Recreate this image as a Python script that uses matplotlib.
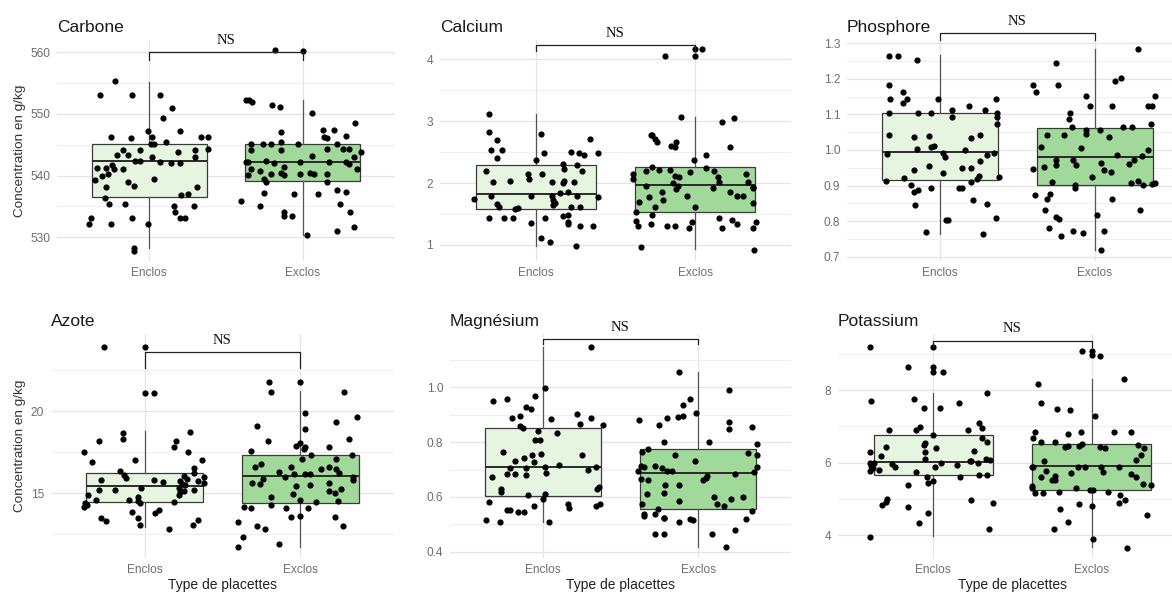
import matplotlib
matplotlib.use("Agg")
import matplotlib.pyplot as plt
from matplotlib.ticker import MultipleLocator, FormatStrFormatter

plt.rcParams['font.family'] = ['Liberation Sans', 'DejaVu Sans']

groups = ["Enclos", "Exclos"]

# --- Carbone (g/kg) ---
carbone_enclos = [555.4, 553.1, 553.1, 553.1, 551.0, 549.3, 547.2, 547.2, 546.2, 546.1,
                  546.3, 546.2, 546.3, 545.5, 545.1, 545.1, 544.2, 544.3, 544.1, 544.1,
                  543.9, 543.4, 543.4, 543.1, 543.1, 541.8, 542.4, 542.4, 542.2, 542.0,
                  542.0, 541.2, 541.2, 541.1, 541.1, 540.0, 540.3, 539.3, 539.0, 539.5,
                  538.2, 538.4, 538.1, 536.8, 537.0, 536.3, 535.4, 535.4, 535.1, 535.1,
                  534.1, 533.2, 533.2, 533.2, 533.2, 532.1, 532.1, 532.1, 528.2, 527.8]
carbone_enclos_jit = [-0.22, -0.32, -0.11, 0.07, 0.15, 0.09, -0.01, 0.20, -0.25, -0.12,
                      0.02, 0.34, 0.38, 0.11, 0.01, 0.03, 0.30, 0.38, -0.17, -0.06,
                      0.19, -0.21, -0.14, 0.02, 0.30, -0.24, -0.09, -0.06, 0.07, 0.14,
                      0.20, -0.34, -0.28, -0.23, -0.17, -0.31, -0.27, -0.35, -0.14, 0.03,
                      -0.28, -0.10, 0.31, 0.21, 0.25, -0.29, -0.26, -0.16, 0.16, 0.29,
                      0.17, -0.38, -0.11, 0.20, 0.23, -0.39, -0.25, -0.01, -0.10, -0.10]
carbone_exclos = [560.4, 560.2, 552.3, 552.2, 551.9, 551.4, 551.2, 550.2, 548.5, 547.4,
                  547.4, 547.0, 546.3, 546.1, 546.4, 545.2, 545.2, 545.2, 545.4, 545.1,
                  545.1, 544.4, 544.3, 544.3, 544.2, 544.2, 543.9, 543.2, 543.1, 542.2,
                  542.2, 542.4, 542.1, 542.2, 542.2, 542.2, 541.9, 541.0, 541.0, 540.8,
                  541.4, 540.1, 540.2, 540.5, 540.1, 540.2, 540.5, 540.3, 540.3, 539.4,
                  539.0, 539.0, 537.2, 537.0, 537.1, 537.7, 537.4, 535.9, 535.1, 535.4,
                  534.1, 533.4, 533.4, 534.1, 531.7, 531.1, 530.3]
carbone_exclos_jit = [-0.18, 0.00, -0.37, -0.35, -0.33, -0.20, -0.15, 0.06, 0.34, 0.13,
                      0.20, -0.14, 0.14, 0.16, 0.28, -0.34, -0.26, -0.21, -0.14, -0.03,
                      0.22, 0.16, 0.26, 0.30, -0.34, -0.14, 0.38, 0.06, 0.33, -0.37,
                      -0.36, -0.24, -0.19, -0.02, 0.17, 0.28, 0.30, 0.35, -0.34, -0.28,
                      -0.12, -0.36, -0.21, -0.14, -0.12, -0.02, 0.05, 0.07, 0.16, -0.25,
                      -0.24, 0.16, -0.25, -0.06, 0.10, 0.22, 0.28, -0.40, -0.28, 0.24,
                      -0.12, -0.12, -0.07, 0.31, 0.33, 0.22, 0.03]
# whisker low, Q1, median, Q3, whisker high
carbone_box = [(528.2, 536.6, 542.3, 545.2, 555.2), (530.3, 539.2, 542.2, 545.2, 552.2)]

# --- Calcium ---
calcium_enclos = [3.12, 2.83, 2.70, 2.79, 2.72, 2.53, 2.54, 2.48, 2.51, 2.48,
                  2.46, 2.48, 2.41, 2.38, 2.31, 2.30, 2.23, 2.20, 2.19, 2.15,
                  2.14, 2.06, 2.01, 2.04, 2.01, 2.00, 2.03, 2.02, 1.75, 1.79,
                  1.79, 1.79, 1.84, 1.85, 1.79, 1.77, 1.73, 1.66, 1.61, 1.65,
                  1.67, 1.61, 1.62, 1.58, 1.60, 1.44, 1.44, 1.44, 1.44, 1.46,
                  1.48, 1.35, 1.37, 1.34, 1.30, 1.31, 1.11, 1.05, 0.98]
calcium_enclos_jit = [-0.29, -0.29, -0.24, 0.03, 0.34, -0.28, -0.21, 0.05, 0.22, 0.27,
                      0.30, 0.39, -0.24, 0.00, 0.17, 0.26, 0.18, 0.29, -0.31, -0.05,
                      0.04, -0.04, -0.27, -0.16, 0.10, 0.17, 0.18, 0.24, -0.39, -0.28,
                      -0.03, 0.10, 0.15, 0.20, 0.26, 0.39, 0.11, -0.24, -0.23, 0.11,
                      0.12, 0.22, 0.28, -0.13, -0.11, -0.29, -0.20, -0.14, 0.06, 0.17,
                      0.20, -0.03, 0.20, 0.20, 0.28, 0.36, 0.03, 0.09, 0.25]
calcium_exclos = [4.17, 4.16, 4.05, 4.05, 3.07, 3.06, 2.98, 2.77, 2.78, 2.72,
                  2.66, 2.66, 2.60, 2.58, 2.58, 2.45, 2.38, 2.26, 2.21, 2.21,
                  2.25, 2.19, 2.18, 2.19, 2.14, 2.11, 2.09, 2.09, 2.14, 2.06,
                  2.02, 2.02, 1.96, 2.00, 1.95, 1.90, 1.92, 1.94, 1.92, 1.85,
                  1.85, 1.79, 1.79, 1.77, 1.79, 1.73, 1.70, 1.67, 1.61, 1.61,
                  1.53, 1.48, 1.44, 1.40, 1.39, 1.31, 1.34, 1.34, 1.37, 1.37,
                  1.30, 1.30, 1.28, 1.28, 1.28, 0.96, 0.91]
calcium_exclos_jit = [0.00, 0.04, 0.00, -0.19, -0.09, 0.24, 0.17, -0.28, -0.27, -0.25,
                      -0.24, -0.12, -0.15, -0.13, 0.22, 0.07, -0.01, -0.27, -0.23, -0.16,
                      0.07, -0.31, -0.03, 0.12, 0.32, -0.13, -0.10, 0.14, -0.39, -0.39,
                      0.15, 0.33, -0.31, -0.14, -0.11, -0.12, 0.11, 0.36, 0.36, -0.21,
                      0.22, 0.26, 0.30, -0.29, -0.05, -0.20, -0.35, 0.36, -0.25, 0.00,
                      -0.37, -0.27, 0.15, 0.23, -0.37, -0.36, -0.28, 0.26, 0.38, -0.02,
                      -0.18, -0.13, -0.04, 0.17, 0.36, -0.34, 0.37]
calcium_box = [(0.98, 1.585, 1.83, 2.295, 3.12), (0.93, 1.537, 1.97, 2.257, 3.07)]

# --- Phosphore ---
phosphore_enclos = [1.263, 1.263, 1.253, 1.182, 1.164, 1.144, 1.144, 1.133, 1.144, 1.144,
                    1.104, 1.104, 1.104, 1.113, 1.094, 1.124, 1.113, 1.104, 1.094, 1.074,
                    1.043, 1.036, 1.038, 1.043, 1.035, 1.004, 1.008, 1.011, 1.001, 0.990,
                    0.992, 0.992, 0.979, 0.986, 0.968, 0.955, 0.934, 0.948, 0.948, 0.924,
                    0.927, 0.943, 0.921, 0.914, 0.911, 0.918, 0.901, 0.893, 0.893, 0.893,
                    0.887, 0.881, 0.859, 0.846, 0.848, 0.810, 0.802, 0.802, 0.769, 0.764]
phosphore_enclos_jit = [-0.33, -0.27, -0.15, -0.33, -0.24, -0.32, -0.21, -0.24, -0.01, 0.36,
                        -0.33, -0.14, -0.06, 0.08, 0.08, 0.19, 0.29, 0.37, 0.37, 0.37,
                        -0.33, -0.17, -0.07, 0.26, 0.20, -0.15, -0.06, -0.04, 0.16, -0.34,
                        0.02, 0.35, 0.03, 0.30, 0.26, -0.07, 0.02, 0.14, 0.20, 0.38,
                        0.25, -0.17, -0.23, -0.35, 0.20, 0.24, -0.19, -0.06, 0.12, 0.14,
                        -0.14, -0.17, 0.21, -0.16, 0.30, 0.36, 0.05, 0.04, -0.09, 0.28]
phosphore_exclos = [1.284, 1.244, 1.182, 1.164, 1.182, 1.195, 1.202, 1.152, 1.152, 1.124,
                    1.124, 1.124, 1.124, 1.105, 1.086, 1.064, 1.064, 1.064, 1.074, 1.055,
                    1.055, 1.044, 1.043, 1.043, 1.037, 1.007, 1.005, 0.999, 0.985, 0.983,
                    0.972, 0.972, 0.972, 0.960, 0.952, 0.959, 0.959, 0.964, 0.947, 0.943,
                    0.938, 0.923, 0.910, 0.901, 0.892, 0.908, 0.914, 0.901, 0.905, 0.907,
                    0.873, 0.875, 0.861, 0.861, 0.831, 0.831, 0.816, 0.811, 0.807, 0.780,
                    0.757, 0.773, 0.768, 0.773, 0.720]
phosphore_exclos_jit = [0.28, -0.25, -0.40, -0.38, -0.24, 0.13, 0.17, 0.39, -0.06, -0.03,
                        0.11, 0.34, 0.37, -0.16, -0.17, -0.15, 0.18, 0.24, 0.36, -0.06,
                        0.03, -0.06, -0.31, -0.20, 0.09, -0.35, -0.09, 0.34, 0.14, 0.30,
                        -0.25, -0.14, 0.25, 0.22, -0.33, -0.25, -0.12, 0.04, -0.40, 0.06,
                        0.10, -0.02, -0.28, -0.13, -0.13, 0.23, 0.28, 0.31, 0.37, 0.39,
                        -0.39, -0.29, -0.31, 0.11, -0.32, 0.29, 0.01, -0.25, -0.23, -0.30,
                        -0.22, -0.14, -0.08, 0.06, 0.04]
phosphore_box = [(0.764, 0.916, 0.994, 1.104, 1.267), (0.720, 0.901, 0.981, 1.063, 1.284)]

# --- Azote ---
azote_enclos = [23.87, 23.87, 21.11, 21.11, 18.64, 18.28, 18.20, 18.74, 18.20, 17.79,
                17.49, 17.49, 16.88, 17.00, 17.00, 16.36, 16.11, 15.95, 16.56, 16.26,
                16.05, 15.89, 15.99, 15.81, 15.81, 15.67, 15.73, 15.77, 15.57, 15.49,
                15.61, 15.34, 15.32, 15.20, 15.22, 15.20, 15.08, 15.12, 14.90, 14.62,
                14.78, 14.60, 14.39, 14.29, 14.19, 14.39, 14.55, 14.49, 14.88, 13.89,
                13.99, 13.79, 13.52, 13.32, 13.50, 13.08, 13.38, 13.08, 12.81]
azote_enclos_jit = [-0.26, 0.00, 0.00, 0.06, -0.14, -0.14, -0.29, 0.29, 0.20, 0.19,
                    -0.39, 0.28, -0.34, -0.06, 0.37, -0.16, -0.13, -0.12, 0.32, 0.32,
                    0.25, 0.27, 0.38, -0.28, 0.06, 0.12, 0.23, 0.34, 0.24, 0.26,
                    0.38, 0.22, -0.02, -0.29, -0.19, 0.32, 0.23, 0.25, -0.36, -0.10,
                    -0.04, -0.31, -0.38, -0.37, -0.39, -0.03, -0.04, 0.19, 0.22, -0.08,
                    0.09, 0.07, -0.28, -0.25, -0.04, -0.03, 0.34, 0.31, 0.16]
azote_exclos = [21.76, 21.76, 21.17, 21.17, 19.88, 19.62, 19.11, 19.31, 18.89, 18.20,
                18.30, 18.08, 17.89, 17.79, 17.67, 17.83, 17.57, 17.08, 17.31, 17.33,
                17.08, 16.62, 16.78, 16.58, 16.48, 16.62, 16.48, 16.32, 16.01, 16.19,
                16.17, 16.15, 16.26, 16.01, 15.81, 15.65, 15.57, 15.85, 15.45, 15.53,
                15.65, 15.12, 15.04, 15.28, 14.80, 14.94, 14.62, 14.47, 14.55, 14.31,
                14.17, 14.11, 14.11, 14.11, 13.58, 13.64, 13.58, 13.24, 13.04, 12.81,
                13.04, 12.35, 11.90, 11.72]
azote_exclos_jit = [-0.20, 0.00, -0.19, 0.28, 0.03, 0.36, -0.28, 0.23, 0.03, -0.21,
                    0.31, 0.00, -0.03, 0.03, 0.02, 0.18, -0.32, 0.01, 0.07, 0.33,
                    0.23, -0.29, -0.25, -0.06, 0.13, 0.18, 0.23, -0.14, -0.10, -0.04,
                    0.03, 0.06, 0.25, 0.34, 0.34, -0.31, -0.26, -0.24, -0.03, 0.06,
                    0.18, 0.18, 0.22, 0.26, -0.19, -0.05, 0.00, 0.10, 0.24, -0.19,
                    -0.36, -0.32, -0.09, 0.05, -0.06, 0.00, 0.22, -0.40, -0.28, -0.23,
                    0.27, -0.37, -0.14, -0.40]
azote_box = [(12.94, 14.49, 15.43, 16.23, 18.81), (11.74, 14.43, 16.03, 17.33, 21.21)]

# --- Magnésium ---
magnesium_enclos = [1.146, 0.999, 0.951, 0.959, 0.968, 0.929, 0.920, 0.887, 0.897, 0.883,
                    0.904, 0.887, 0.867, 0.861, 0.860, 0.852, 0.842, 0.835, 0.809, 0.807,
                    0.763, 0.755, 0.752, 0.741, 0.753, 0.731, 0.729, 0.706, 0.717, 0.709,
                    0.704, 0.684, 0.684, 0.679, 0.689, 0.698, 0.709, 0.672, 0.628, 0.619,
                    0.608, 0.611, 0.591, 0.636, 0.628, 0.583, 0.567, 0.573, 0.558, 0.567,
                    0.575, 0.553, 0.551, 0.544, 0.546, 0.516, 0.507, 0.507]
magnesium_enclos_jit = [0.31, 0.01, -0.32, -0.23, -0.05, -0.11, -0.08, -0.20, -0.15, 0.05,
                        0.22, 0.31, 0.24, 0.39, -0.15, -0.13, -0.03, 0.09, -0.05, -0.02,
                        -0.26, -0.01, -0.07, -0.12, 0.25, -0.18, -0.06, -0.21, 0.10, 0.01,
                        -0.11, -0.23, -0.18, -0.11, 0.02, 0.29, 0.34, -0.33, -0.27, -0.27,
                        -0.10, 0.01, 0.00, 0.36, 0.35, -0.35, -0.06, 0.16, 0.17, 0.34,
                        0.37, -0.23, -0.21, -0.16, -0.12, -0.37, -0.28, 0.04]
magnesium_exclos = [1.056, 0.991, 0.956, 0.937, 0.891, 0.894, 0.905, 0.888, 0.880, 0.861,
                    0.873, 0.847, 0.855, 0.799, 0.799, 0.792, 0.775, 0.763, 0.760, 0.754,
                    0.754, 0.731, 0.714, 0.708, 0.714, 0.704, 0.695, 0.695, 0.695, 0.710,
                    0.690, 0.678, 0.668, 0.661, 0.685, 0.665, 0.662, 0.645, 0.645, 0.616,
                    0.609, 0.601, 0.601, 0.592, 0.586, 0.573, 0.568, 0.575, 0.556, 0.547,
                    0.536, 0.530, 0.536, 0.524, 0.522, 0.521, 0.518, 0.515, 0.509, 0.463,
                    0.466, 0.466, 0.478, 0.416]
magnesium_exclos_jit = [-0.12, 0.20, -0.05, -0.10, -0.13, -0.10, -0.01, -0.20, -0.38, -0.25,
                        0.20, 0.20, 0.35, -0.22, 0.07, 0.38, -0.32, -0.36, 0.32, 0.38,
                        -0.15, -0.02, -0.37, -0.35, -0.28, -0.23, -0.20, -0.17, -0.39, 0.38,
                        0.36, 0.06, 0.05, 0.03, 0.24, -0.37, -0.32, -0.21, -0.12, -0.22,
                        -0.33, 0.10, 0.29, 0.21, -0.12, 0.12, 0.17, -0.36, -0.26, 0.35,
                        -0.35, -0.35, -0.28, -0.22, -0.22, 0.31, -0.05, -0.03, -0.12, -0.28,
                        -0.22, 0.09, 0.24, 0.18]
magnesium_box = [(0.509, 0.603, 0.709, 0.850, 1.148), (0.418, 0.556, 0.686, 0.774, 1.057)]

# --- Potassium ---
potassium_enclos = [9.18, 9.18, 8.63, 8.63, 8.51, 8.50, 7.93, 7.71, 7.75, 7.65,
                    7.51, 7.51, 6.99, 6.91, 6.89, 6.91, 7.08, 6.94, 6.75, 6.67,
                    6.56, 6.55, 6.48, 6.43, 6.40, 6.28, 6.30, 6.31, 6.18, 6.09,
                    6.09, 6.00, 5.98, 6.05, 6.05, 5.96, 5.89, 5.98, 5.94, 5.98,
                    6.06, 5.88, 5.91, 5.84, 5.77, 5.78, 5.73, 5.61, 5.61, 5.66,
                    5.66, 5.50, 5.43, 5.38, 4.97, 4.89, 4.99, 4.91, 4.84, 4.77,
                    4.62, 4.34, 4.17, 3.95]
potassium_enclos_jit = [-0.40, 0.00, -0.16, 0.00, 0.00, 0.06, 0.34, -0.39, -0.12, 0.16,
                        -0.06, 0.04, -0.08, -0.11, -0.28, 0.22, 0.29, 0.31, 0.00, 0.31,
                        0.34, -0.05, -0.06, -0.30, 0.02, -0.40, -0.05, 0.26, -0.33, -0.05,
                        0.33, -0.40, -0.37, 0.23, 0.24, -0.26, -0.24, 0.05, 0.15, 0.28,
                        0.36, 0.01, -0.39, -0.38, -0.40, -0.34, -0.11, -0.04, 0.17, 0.29,
                        0.34, 0.00, -0.03, -0.16, 0.24, 0.38, -0.29, -0.30, -0.32, -0.16,
                        -0.03, -0.09, 0.35, -0.40]
potassium_exclos = [9.07, 9.07, 8.97, 8.94, 8.30, 8.17, 7.65, 7.47, 7.45, 7.29,
                    6.84, 6.67, 6.80, 6.85, 6.83, 6.85, 6.57, 6.57, 6.42, 6.46,
                    6.46, 6.52, 6.44, 6.40, 6.47, 6.40, 6.22, 6.06, 6.03, 5.87,
                    5.89, 5.76, 5.59, 5.51, 5.51, 5.63, 5.70, 5.87, 5.89, 5.89,
                    5.73, 5.87, 5.69, 5.61, 5.41, 5.38, 5.35, 5.30, 5.15, 5.17,
                    5.19, 5.31, 5.24, 5.24, 5.20, 5.11, 4.97, 4.89, 4.86, 4.80,
                    4.72, 4.35, 4.16, 4.56, 3.89, 3.65]
potassium_exclos_jit = [-0.06, 0.00, 0.00, 0.05, 0.20, -0.34, -0.32, -0.22, -0.14, 0.02,
                        -0.36, -0.37, -0.15, -0.07, 0.14, 0.25, -0.32, -0.23, -0.17, -0.15,
                        -0.08, -0.06, 0.05, 0.08, 0.29, 0.33, 0.31, 0.28, -0.30, -0.38,
                        -0.37, -0.29, -0.32, -0.25, -0.23, -0.23, -0.13, -0.09, -0.04, 0.06,
                        0.07, 0.17, 0.25, 0.28, 0.32, 0.37, -0.38, -0.38, -0.36, -0.31,
                        -0.21, -0.10, -0.01, 0.01, 0.10, 0.18, 0.21, 0.17, -0.08, 0.00,
                        -0.20, -0.15, -0.24, 0.35, 0.01, 0.22]
potassium_box = [(3.97, 5.646, 6.014, 6.768, 7.93), (3.68, 5.241, 5.894, 6.510, 8.30)]

# significance bracket heights
brackets = {"Carbone": 560.0, "Calcium": 4.23, "Phosphore": 1.328,
            "Azote": 23.57, "Magnésium": 1.176, "Potassium": 9.36}

fills = ["#e5f5e0", "#a1d99b"]

W, H = 1172, 596
fig = plt.figure(figsize=(W / 100, H / 100), dpi=100)
fig.patch.set_facecolor("white")


def add_panel(left, right, top, bottom):
    return fig.add_axes([left / W, 1 - bottom / H, (right - left) / W, (bottom - top) / H])


def draw(ax, title, values, jitters, boxes, ylim, major, minor, fmt, tip):
    stats = [dict(whislo=b[0], q1=b[1], med=b[2], q3=b[3], whishi=b[4], fliers=[]) for b in boxes]
    bp = ax.bxp(stats, positions=[1, 2], widths=0.75, patch_artist=True,
                showcaps=False, showfliers=False, manage_ticks=False,
                boxprops=dict(edgecolor="#3a3a3a", lw=0.9),
                medianprops=dict(color="#2a2a2a", lw=1.4),
                whiskerprops=dict(color="#555555", lw=0.9))
    for patch, c in zip(bp["boxes"], fills):
        patch.set_facecolor(c)

    for i, (vals, jit) in enumerate(zip(values, jitters)):
        ax.scatter([i + 1 + o for o in jit], vals, s=20, color="black",
                   linewidths=0, zorder=4)

    ax.set_xlim(0.4, 2.6)
    ax.set_ylim(*ylim)
    ax.yaxis.set_major_locator(MultipleLocator(major))
    ax.yaxis.set_minor_locator(MultipleLocator(minor))
    ax.yaxis.set_major_formatter(FormatStrFormatter(fmt))
    ax.set_xticks([1, 2], groups)
    ax.grid(which="major", color="#e4e4e4", lw=0.9)
    ax.grid(which="minor", axis="y", color="#efefef", lw=0.8)
    ax.set_axisbelow(True)
    for s in ax.spines.values():
        s.set_visible(False)
    ax.tick_params(which="both", length=0, labelsize=8.6, labelcolor="#6e6e6e")
    ax.tick_params(axis="y", pad=5)
    ax.tick_params(axis="x", pad=4)

    yb = brackets[title]
    ax.plot([1, 1, 2, 2], [yb - tip, yb, yb, yb - tip], color="#222222",
            lw=0.9, clip_on=False, zorder=5)
    ax.annotate("NS", xy=(1.5, yb), xytext=(0, 4), textcoords="offset points",
                ha="center", va="bottom", fontsize=10.5, family="Liberation Serif",
                color="#111111", annotation_clip=False)

    ax.set_title(title, loc="left", fontsize=12.5, color="#1a1a1a", pad=6)


# top row
ax1 = add_panel(57, 395, 40, 261)
draw(ax1, "Carbone", [carbone_enclos, carbone_exclos],
     [carbone_enclos_jit, carbone_exclos_jit], carbone_box,
     (526.16, 562.0), 10, 5, "%d", 1.2)
ax2 = add_panel(440, 791, 40, 261)
draw(ax2, "Calcium", [calcium_enclos, calcium_exclos],
     [calcium_enclos_jit, calcium_exclos_jit], calcium_box,
     (0.740, 4.313), 1, 0.5, "%d", 0.09)
ax3 = add_panel(847, 1188, 40, 261)
draw(ax3, "Phosphore", [phosphore_enclos, phosphore_exclos],
     [phosphore_enclos_jit, phosphore_exclos_jit], phosphore_box,
     (0.688, 1.309), 0.1, 0.05, "%.1f", 0.019)

# bottom row
ax4 = add_panel(51, 394, 334, 558)
draw(ax4, "Azote", [azote_enclos, azote_exclos],
     [azote_enclos_jit, azote_exclos_jit], azote_box,
     (11.07, 24.68), 5, 2.5, "%d", 0.97)
ax5 = add_panel(450, 791, 334, 558)
draw(ax5, "Magnésium", [magnesium_enclos, magnesium_exclos],
     [magnesium_enclos_jit, magnesium_exclos_jit], magnesium_box,
     (0.377, 1.195), 0.2, 0.1, "%.1f", 0.016)
ax6 = add_panel(838, 1187, 334, 558)
draw(ax6, "Potassium", [potassium_enclos, potassium_exclos],
     [potassium_enclos_jit, potassium_exclos_jit], potassium_box,
     (3.366, 9.545), 2, 1, "%d", 0.17)

for ax, left in ((ax1, 57), (ax4, 51)):
    ax.set_ylabel("Concentration en g/kg", fontsize=9.7, color="#333333")
    width = ax.get_position().width * W
    ax.yaxis.set_label_coords(-(left - 20) / width, 0.5)
    ax.yaxis.label.set_va("center")

for ax in (ax4, ax5, ax6):
    ax.set_xlabel("Type de placettes", fontsize=10, color="#222222")
    height = ax.get_position().height * H
    ax.xaxis.set_label_coords(0.5, -27 / height)
    ax.xaxis.label.set_va("center")

fig.savefig("out.png", dpi=100)
